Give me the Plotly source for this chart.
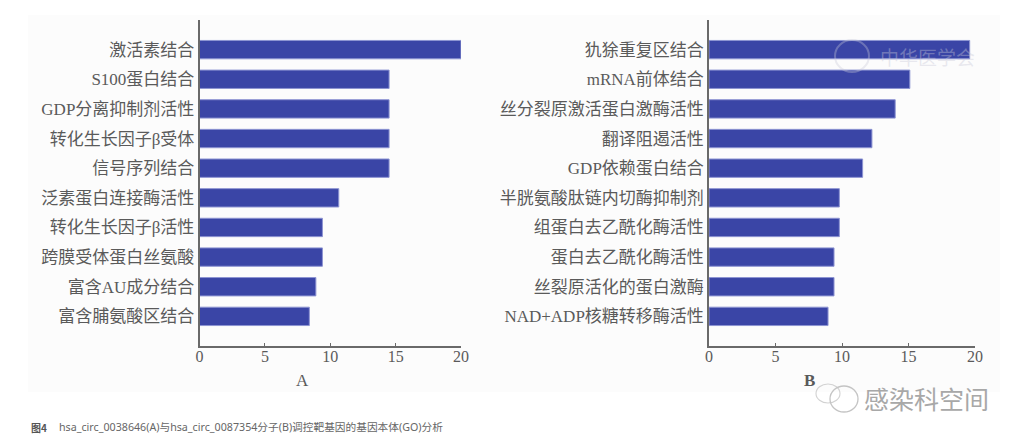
import plotly.graph_objects as go

labels_a = ["激活素结合", "S100蛋白结合", "GDP分离抑制剂活性", "转化生长因子β受体", "信号序列结合",
            "泛素蛋白连接酶活性", "转化生长因子β活性", "跨膜受体蛋白丝氨酸", "富含AU成分结合", "富含脯氨酸区结合"]
values_a = [20.0, 14.5, 14.5, 14.5, 14.5, 10.65, 9.4, 9.4, 8.9, 8.4]
labels_b = ["犰狳重复区结合", "mRNA前体结合", "丝分裂原激活蛋白激酶活性", "翻译阻遏活性", "GDP依赖蛋白结合",
            "半胱氨酸肽链内切酶抑制剂", "组蛋白去乙酰化酶活性", "蛋白去乙酰化酶活性", "丝裂原活化的蛋白激酶", "NAD+ADP核糖转移酶活性"]
values_b = [19.6, 15.1, 14.0, 12.25, 11.55, 9.8, 9.8, 9.4, 9.4, 8.95]
x_ticks = [0, 5, 10, 15, 20]
caption_head = "图4"
caption = "hsa_circ_0038646(A)与hsa_circ_0087354分子(B)调控靶基因的基因本体(GO)分析"

W, H = 1024, 443
FONT = "Liberation Serif, Noto Sans CJK SC, serif"
TEXT = "#5a5a5a"
BAR = "#3a45a6"
AXIS = "#6a6a6a"

def px(x): return x / W
def py(y): return 1 - y / H

fig = go.Figure()
fig.add_bar(y=labels_a, x=values_a, orientation="h", width=0.62, xaxis="x", yaxis="y",
            marker=dict(color=BAR, line=dict(color="#8d94d2", width=1)), showlegend=False)
fig.add_bar(y=labels_b, x=values_b, orientation="h", width=0.62, xaxis="x2", yaxis="y2",
            marker=dict(color=BAR, line=dict(color="#8d94d2", width=1)), showlegend=False)

def xaxis(left, right, anchor):
    return dict(domain=[px(left), px(right)], range=[0, 20], anchor=anchor,
                tickmode="array", tickvals=x_ticks, ticks="inside", ticklen=3, tickwidth=1,
                tickcolor=AXIS, showline=True, linecolor=AXIS, linewidth=1.5, showgrid=False,
                zeroline=False, automargin=False, ticklabelstandoff=-5,
                tickfont=dict(family=FONT, size=16, color=TEXT))

def yaxis(anchor):
    return dict(domain=[py(346), py(20)], anchor=anchor, type="category", range=[10, -1],
                ticks="", showline=True, linecolor=AXIS, linewidth=1.5, showgrid=False,
                zeroline=False, automargin=False, tickfont=dict(family=FONT, size=17, color=TEXT))

shapes = [
    dict(type="rect", xref="paper", yref="paper", x0=px(28), x1=px(1000), y0=py(392), y1=py(15),
         fillcolor="#fcfcfc", line_width=0, layer="below"),
    dict(type="circle", xref="paper", yref="paper", x0=px(830), x1=px(858), y0=py(412), y1=py(386),
         line=dict(color="#c4c4c4", width=1.3)),
    dict(type="circle", xref="paper", yref="paper", x0=px(816), x1=px(840), y0=py(403), y1=py(384),
         line=dict(color="#d2d2d2", width=1.1), layer="below"),
    dict(type="circle", xref="paper", yref="paper", x0=px(835), x1=px(869), y0=py(72), y1=py(40),
         line=dict(color="rgba(200,200,215,0.35)", width=2)),
]

def note(text, x, y, size, color, family=FONT, xanchor="center"):
    return dict(text=text, x=px(x), y=py(y), xref="paper", yref="paper", showarrow=False,
                xanchor=xanchor, yanchor="middle", font=dict(family=family, size=size, color=color))

annotations = [
    note("A", 302, 380, 17, TEXT),
    note("<b>B</b>", 809, 380, 17, TEXT),
    note("<b>" + caption_head + "</b>", 29, 427, 10, "#555555", "Noto Sans CJK SC", "left"),
    note(caption, 57, 427, 10.7, "#666666", "Noto Sans, Noto Sans CJK SC", "left"),
    note("感染科空间", 862, 398, 25, "#a8a8a8", "Noto Sans CJK SC", "left"),
    note("中华医学会", 878, 56, 19, "rgba(200,200,215,0.4)", "Noto Sans CJK SC", "left"),
]

fig.update_layout(
    width=W, height=H, autosize=False,
    margin=dict(l=0, r=0, t=0, b=0, pad=0, autoexpand=False),
    paper_bgcolor="white", plot_bgcolor="rgba(0,0,0,0)",
    xaxis=xaxis(199.5, 461, "y"), yaxis=yaxis("x"),
    xaxis2=xaxis(709, 975, "y2"), yaxis2=yaxis("x2"),
    shapes=shapes, annotations=annotations, bargap=0.38,
)
fig.write_html("out.html", config=dict(displayModeBar=False),
               post_script="document.body.style.margin='0';document.body.style.overflow='hidden';")
